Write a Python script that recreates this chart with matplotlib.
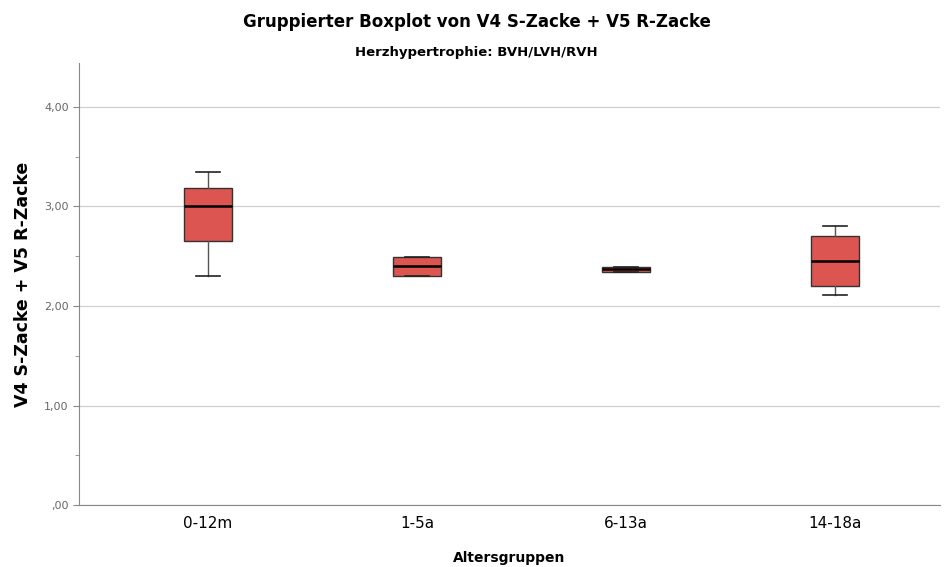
import matplotlib

matplotlib.use("Agg")
import matplotlib.pyplot as plt
from matplotlib.ticker import FixedLocator, FuncFormatter

GROUPS = ["0-12m", "1-5a", "6-13a", "14-18a"]
WHISK_LO = [2.30, 2.30, 2.34, 2.11]
Q1 = [2.65, 2.30, 2.34, 2.20]
MEDIAN = [3.00, 2.40, 2.37, 2.45]
Q3 = [3.18, 2.49, 2.39, 2.70]
WHISK_HI = [3.35, 2.49, 2.39, 2.80]

BOX_COLOR = "#dc5550"

stats = [
    {"label": g, "whislo": lo, "q1": a, "med": m, "q3": b, "whishi": hi, "fliers": []}
    for g, lo, a, m, b, hi in zip(GROUPS, WHISK_LO, Q1, MEDIAN, Q3, WHISK_HI)
]

fig = plt.figure(figsize=(9.53, 5.67), dpi=100)
ax = fig.add_axes([0.083, 0.109, 0.903, 0.78])

ax.bxp(
    stats,
    positions=range(len(GROUPS)),
    widths=0.23,
    patch_artist=True,
    showfliers=False,
    boxprops=dict(facecolor=BOX_COLOR, edgecolor="#333333", linewidth=1.0),
    medianprops=dict(color="black", linewidth=1.8),
    whiskerprops=dict(color="#555555", linewidth=1.0),
    capprops=dict(color="#222222", linewidth=1.2),
    capwidths=0.115,
    zorder=3,
)

ax.set_xlim(-0.617, 3.5)
ax.set_ylim(0, 4.44)
ax.yaxis.set_major_locator(FixedLocator([0, 1, 2, 3, 4]))
ax.yaxis.set_minor_locator(FixedLocator([0.5, 1.5, 2.5, 3.5]))
ax.yaxis.set_major_formatter(
    FuncFormatter(lambda v, p: ",00" if v == 0 else f"{v:.2f}".replace(".", ","))
)
ax.grid(axis="y", color="#d0d0d0", linewidth=0.9, zorder=0)
ax.tick_params(axis="y", labelsize=8, labelcolor="#666666", length=4, color="#888888")
ax.tick_params(axis="y", which="minor", length=3, color="#888888")
ax.tick_params(axis="x", labelsize=11, length=0, pad=8)
for s in ("top", "right"):
    ax.spines[s].set_visible(False)
ax.spines["left"].set_color("#888888")
ax.spines["bottom"].set_color("#888888")

ax.set_ylabel("V4 S-Zacke + V5 R-Zacke", fontsize=12.5, fontweight="bold", labelpad=9)
ax.set_xlabel("Altersgruppen", fontsize=10, fontweight="bold", labelpad=14)

fig.text(0.5, 0.961, "Gruppierter Boxplot von V4 S-Zacke + V5 R-Zacke",
         ha="center", va="center", fontsize=12, fontweight="bold")
fig.text(0.5, 0.908, "Herzhypertrophie: BVH/LVH/RVH",
         ha="center", va="center", fontsize=9.5, fontweight="bold")

fig.savefig("out.png", dpi=100)
